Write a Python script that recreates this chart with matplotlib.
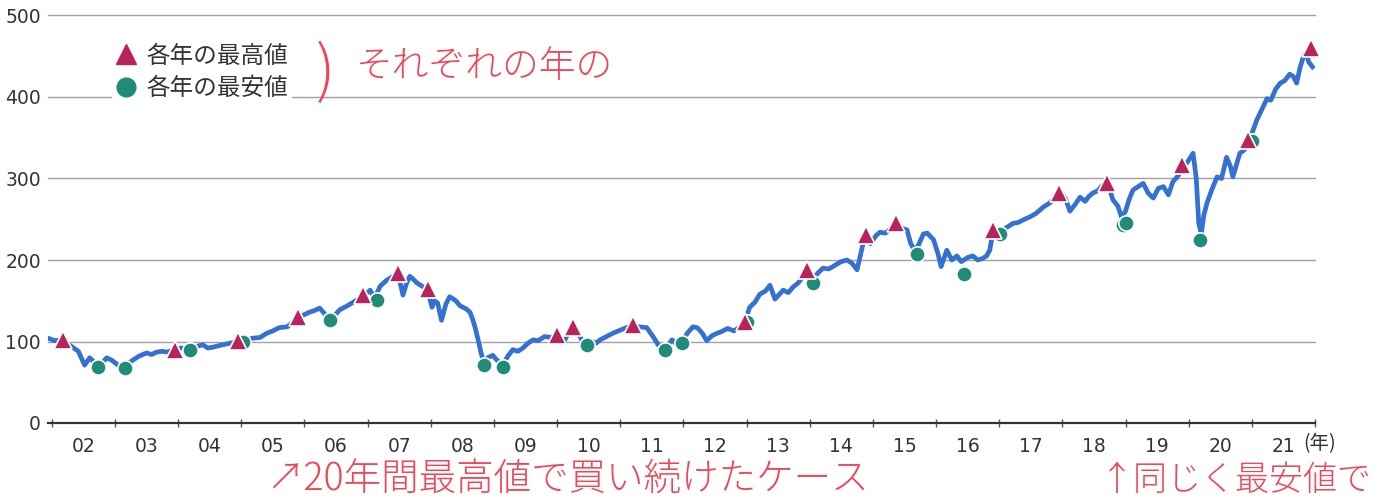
import matplotlib
matplotlib.use("Agg")
import matplotlib.pyplot as plt
from matplotlib.lines import Line2D

plt.rcParams['font.family'] = ['Noto Sans CJK JP', 'DejaVu Sans']

# ---- data ----
t = [2001.94, 2002.05, 2002.17, 2002.25, 2002.33, 2002.42, 2002.52, 2002.6, 2002.68, 2002.78,
     2002.87, 2002.95, 2003.05, 2003.16, 2003.28, 2003.38, 2003.5, 2003.58, 2003.66, 2003.75,
     2003.82, 2003.95, 2004.05, 2004.19, 2004.3, 2004.39, 2004.47, 2004.55, 2004.65, 2004.77,
     2004.88, 2004.95, 2005.08, 2005.18, 2005.3, 2005.4, 2005.5, 2005.6, 2005.73, 2005.82,
     2005.9, 2006.0, 2006.08, 2006.16, 2006.24, 2006.32, 2006.4, 2006.48, 2006.56, 2006.66,
     2006.77, 2006.85, 2006.92, 2007.0, 2007.04, 2007.11, 2007.2, 2007.3, 2007.4, 2007.48,
     2007.56, 2007.62, 2007.67, 2007.73, 2007.78, 2007.86, 2007.95, 2008.02, 2008.06, 2008.11,
     2008.17, 2008.24, 2008.3, 2008.36, 2008.41, 2008.46, 2008.51, 2008.56, 2008.62, 2008.66,
     2008.7, 2008.75, 2008.8, 2008.84, 2008.9, 2008.98, 2009.05, 2009.14, 2009.22, 2009.3,
     2009.38, 2009.46, 2009.54, 2009.62, 2009.7, 2009.8, 2009.9, 2010.0, 2010.1, 2010.18,
     2010.25, 2010.33, 2010.4, 2010.47, 2010.56, 2010.62, 2010.68, 2010.78, 2010.88, 2011.0,
     2011.1, 2011.2, 2011.3, 2011.42, 2011.52, 2011.6, 2011.71, 2011.77, 2011.82, 2011.9,
     2011.98, 2012.06, 2012.15, 2012.22, 2012.3, 2012.37, 2012.45, 2012.53, 2012.6, 2012.7,
     2012.8, 2012.9, 2012.97, 2013.05, 2013.13, 2013.21, 2013.3, 2013.37, 2013.45, 2013.52,
     2013.58, 2013.66, 2013.74, 2013.82, 2013.9, 2013.96, 2014.05, 2014.13, 2014.21, 2014.3,
     2014.37, 2014.43, 2014.5, 2014.59, 2014.67, 2014.75, 2014.8, 2014.85, 2014.89, 2014.96,
     2015.05, 2015.11, 2015.2, 2015.3, 2015.37, 2015.45, 2015.54, 2015.6, 2015.66, 2015.72,
     2015.8, 2015.86, 2015.96, 2016.03, 2016.08, 2016.17, 2016.25, 2016.33, 2016.4, 2016.5,
     2016.58, 2016.66, 2016.74, 2016.8, 2016.85, 2016.9, 2017.0, 2017.08, 2017.16, 2017.22,
     2017.3, 2017.4, 2017.49, 2017.58, 2017.7, 2017.8, 2017.9, 2017.97, 2018.05, 2018.12,
     2018.2, 2018.28, 2018.36, 2018.42, 2018.48, 2018.56, 2018.64, 2018.72, 2018.8, 2018.88,
     2018.94, 2019.0, 2019.06, 2019.12, 2019.2, 2019.28, 2019.36, 2019.44, 2019.52, 2019.6,
     2019.68, 2019.75, 2019.83, 2019.9, 2019.98, 2020.07, 2020.12, 2020.16, 2020.2, 2020.24,
     2020.29, 2020.36, 2020.45, 2020.52, 2020.6, 2020.66, 2020.7, 2020.76, 2020.81, 2020.88,
     2020.94, 2021.0, 2021.08, 2021.16, 2021.24, 2021.3, 2021.38, 2021.45, 2021.52, 2021.6,
     2021.66, 2021.71, 2021.76, 2021.81, 2021.86, 2021.9, 2021.96]
price = [104, 101, 102, 97, 93, 88, 71, 80, 74, 72,
         80, 77, 71, 69, 77, 82, 86, 84, 87, 88,
         87, 90, 92, 91, 94, 96, 92, 93, 95, 97,
         99, 101, 102, 104, 105, 110, 113, 117, 118, 124,
         130, 133, 136, 138, 141, 134, 128, 132, 139, 143,
         148, 152, 157, 160, 163, 153, 168, 175, 180, 184,
         157, 172, 180, 176, 172, 168, 164, 142, 150, 147,
         126, 146, 155, 152, 149, 144, 142, 140, 136, 128,
         118, 102, 85, 74, 80, 83, 77, 71, 82, 90,
         88, 92, 98, 102, 101, 106, 105, 108, 99, 110,
         118, 112, 100, 97, 100, 98, 102, 106, 110, 114,
         117, 120, 118, 117, 106, 96, 91, 97, 102, 96,
         99, 110, 118, 117, 110, 101, 107, 110, 112, 116,
         113, 118, 124, 142, 148, 158, 162, 169, 152, 158,
         163, 160, 167, 172, 181, 188, 176, 184, 190, 189,
         192, 195, 198, 200, 196, 188, 205, 222, 229, 220,
         230, 234, 233, 240, 244, 239, 237, 220, 212, 218,
         232, 233, 225, 208, 192, 212, 200, 205, 198, 203,
         205, 200, 202, 205, 212, 234, 236, 238, 242, 245,
         246, 250, 253, 257, 265, 270, 278, 284, 275, 260,
         268, 277, 272, 278, 282, 285, 292, 294, 274, 266,
         252, 260, 275, 286, 290, 294, 282, 276, 288, 290,
         280, 296, 303, 314, 320, 331, 300, 245, 232, 255,
         270, 285, 302, 300, 326, 315, 302, 318, 331, 335,
         345, 355, 372, 385, 398, 396, 410, 417, 420, 428,
         425, 417, 435, 448, 455, 443, 437]

high_t = [2002.17, 2003.95, 2004.95, 2005.9, 2006.92, 2007.48, 2007.95, 2010.0, 2010.25, 2011.2,
          2012.97, 2013.96, 2014.89, 2015.37, 2016.9, 2017.95, 2018.7, 2019.9, 2020.94, 2021.94]
high_v = [102, 90, 101, 130, 157, 184, 164, 108, 118, 120,
          124, 188, 231, 245, 237, 282, 295, 316, 347, 460]

low_t = [2002.73, 2003.16, 2004.19, 2005.03, 2006.4, 2007.15, 2008.84, 2009.14, 2010.47, 2011.71,
         2011.98, 2013.0, 2014.05, 2015.7, 2016.44, 2017.02, 2018.96, 2019.0, 2020.18, 2021.0]
low_v = [69, 67.5, 89.6, 99, 126, 151, 71, 69, 96, 90,
         98, 124, 172, 207, 183, 232, 243, 245, 225, 346]

year_labels = ['02', '03', '04', '05', '06', '07', '08', '09', '10', '11',
               '12', '13', '14', '15', '16', '17', '18', '19', '20', '21']
y_ticks = [0, 100, 200, 300, 400, 500]

legend_high = '各年の最高値'
legend_low = '各年の最安値'

# ---- figure ----
W, H = 1394, 504
fig = plt.figure(figsize=(W / 100, H / 100), dpi=100)
ax = fig.add_axes([48 / W, 1 - 423 / H, (1315 - 48) / W, (423 - 15.5) / H])

BLUE = '#3471d2'
RED = '#b8235c'
TEAL = '#1f8b78'
PEN = '#ef4658'
INK = '#333333'

ax.set_xlim(2001.94, 2022.0)
ax.set_ylim(0, 500)

for v in y_ticks[1:]:
    ax.axhline(v, color='#a0a0a0', lw=1.0, zorder=0, clip_on=False)

ax.plot(t, price, color=BLUE, lw=3.4, solid_joinstyle='round', zorder=2)
ax.plot(low_t, low_v, ls='none', marker='o', ms=11, mfc=TEAL, mec='white', mew=1.2, zorder=3)
ax.plot(high_t, high_v, ls='none', marker='^', ms=12.5, mfc=RED, mec='white', mew=1.2, zorder=4,
        clip_on=False)

for s in ['top', 'right', 'left']:
    ax.spines[s].set_visible(False)
ax.spines['bottom'].set_color(INK)
ax.spines['bottom'].set_linewidth(1.6)
ax.spines['bottom'].set_zorder(5)

num_font = ['DejaVu Sans']
ax.set_yticks(y_ticks)
ax.set_yticklabels([str(v) for v in y_ticks], family=num_font)
ax.tick_params(axis='y', length=0, pad=5, labelsize=13.5, labelcolor=INK)

years = list(range(2002, 2023))
ax.set_xticks(years)
ax.set_xticklabels([])
ax.set_xticks([y + 0.5 for y in years[:-1]], minor=True)
ax.set_xticklabels(year_labels, minor=True, family=num_font)
ax.tick_params(axis='x', which='major', length=6, width=1.0, color='#555555', direction='inout')
ax.tick_params(axis='x', which='minor', length=0, pad=10, labelsize=13.5, labelcolor=INK)

ax.text(2021.82, -0.05, '(年)', transform=ax.get_xaxis_transform(), ha='left', va='center',
        fontsize=14, color=INK)

handles = [Line2D([], [], ls='none', marker='^', ms=14, mfc=RED, mec=RED),
           Line2D([], [], ls='none', marker='o', ms=13.5, mfc=TEAL, mec=TEAL)]
leg = ax.legend(handles, [legend_high, legend_low], loc='upper left',
                bbox_to_anchor=(112 / W, 1 - 41 / H), bbox_transform=fig.transFigure,
                frameon=True, facecolor='white', edgecolor='none', framealpha=1,
                fontsize=17, handlelength=0.9, handletextpad=0.4, labelspacing=0.4,
                borderpad=0.15, borderaxespad=0)
for txt in leg.get_texts():
    txt.set_color(INK)
leg.set_zorder(6)

# handwritten notes
fig.text(316 / W, 1 - 74 / H, ')', color=PEN, fontsize=44, fontweight='light', ha='left', va='center')
fig.text(356 / W, 1 - 67 / H, 'それぞれの年の', color=PEN, fontsize=26.5, fontweight='light',
         ha='left', va='center')
fig.text(266 / W, 1 - 480 / H, '↗20年間最高値で買い続けたケース', color=PEN, fontsize=27,
         fontweight='light', ha='left', va='center')
fig.text(1100 / W, 1 - 480 / H, '↑同じく最安値で', color=PEN, fontsize=24.5,
         fontweight='light', ha='left', va='center')

fig.savefig('out.png', dpi=100, facecolor='white')
